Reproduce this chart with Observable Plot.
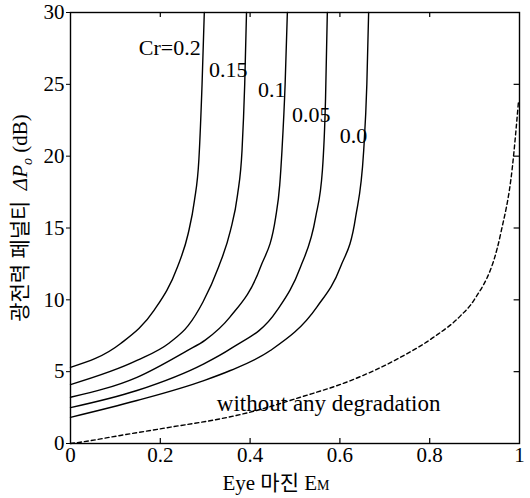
<!DOCTYPE html>
<html>
<head>
<meta charset="utf-8">
<script src="https://cdn.jsdelivr.net/npm/d3@7"></script>
<script src="https://cdn.jsdelivr.net/npm/@observablehq/plot@0.6"></script>
<style>
  html, body { margin: 0; padding: 0; background: #fff; }
</style>
</head>
<body>
<div id="chart"></div>
<script>
// Eye margin E_M (x) vs optical power penalty ΔP_o in dB (y), per crosstalk ratio Cr
const crLabels = ["Cr=0.2", "0.15", "0.1", "0.05", "0.0"];
const em_cr020 = [0, 0.111, 0.186, 0.238, 0.262, 0.276, 0.286, 0.293, 0.298];
const dp_cr020 = [5.3, 6.94, 9.26, 12.27, 14.6, 16.9, 19.8, 25, 30];
const em_cr015 = [0, 0.148, 0.22, 0.262, 0.295, 0.33, 0.356, 0.372, 0.382, 0.388, 0.392];
const dp_cr015 = [4.1, 5.78, 7.0, 8.2, 9.85, 12.3, 14.8, 17.3, 20.4, 25, 30];
const em_cr010 = [0, 0.148, 0.26, 0.30, 0.355, 0.423, 0.457, 0.466, 0.471, 0.478, 0.483];
const dp_cr010 = [3.22, 4.61, 6.47, 7.2, 8.8, 12.27, 15.75, 18.0, 20.4, 25, 30];
const em_cr005 = [0, 0.148, 0.297, 0.356, 0.46, 0.512, 0.546, 0.561, 0.568, 0.572];
const dp_cr005 = [2.5, 3.69, 5.55, 6.59, 9.26, 12.27, 15.75, 19, 24, 30];
const em_cr000 = [0, 0.148, 0.297, 0.356, 0.445, 0.549, 0.601, 0.635, 0.653, 0.66, 0.664];
const dp_cr000 = [1.82, 2.99, 4.38, 5.08, 6.47, 9.51, 12.27, 15.75, 20.4, 25, 30];
// without any degradation (dashed)
const em_ideal = [0, 0.022, 0.111, 0.223, 0.334, 0.40, 0.512, 0.624, 0.735, 0.809, 0.869, 0.898, 0.958, 0.984, 0.998];
const dp_ideal = [0, 0.09, 0.56, 1.14, 1.72, 2.18, 3.22, 4.38, 6.0, 7.4, 8.9, 9.95, 14.6, 19.2, 23.9];
// axis ticks
const xTicks = [0, 0.2, 0.4, 0.6, 0.8, 1];
const yTicks = [0, 5, 10, 15, 20, 25, 30];
// curve label anchors (data coords, text ends at anchor)
const labelEm = [0.29, 0.394, 0.479, 0.579, 0.661];
const labelDp = [27.5, 26.0, 24.6, 22.9, 21.4];
const noteText = "without any degradation";
const noteEm = 0.326, noteDp = 2.8;

const xsets = [em_cr020, em_cr015, em_cr010, em_cr005, em_cr000];
const ysets = [dp_cr020, dp_cr015, dp_cr010, dp_cr005, dp_cr000];
const curves = [];
xsets.forEach((xs, i) => xs.forEach((x, j) => curves.push({cr: crLabels[i], x, y: ysets[i][j]})));
const ideal = em_ideal.map((x, j) => ({x, y: dp_ideal[j]}));
const labels = crLabels.map((t, i) => ({t, x: labelEm[i], y: labelDp[i]}));

const serif = "'Liberation Serif', 'Times New Roman', 'Noto Sans CJK KR', serif";

const chart = Plot.plot({
  width: 530,
  height: 498,
  marginLeft: 70,
  marginRight: 11,
  marginTop: 12,
  marginBottom: 55,
  style: {fontFamily: serif, fontSize: "21px", background: "white", color: "black"},
  x: {domain: [0, 1]},
  y: {domain: [0, 30]},
  marks: [
    Plot.frame({stroke: "black", strokeWidth: 1.4}),
    Plot.axisX(xTicks, {tickSize: 0, tickPadding: 4, label: null, fontSize: 21,
      tickFormat: d => (d === 0 || d === 1) ? String(d) : d.toFixed(1)}),
    Plot.axisY(yTicks, {tickSize: 4, tickPadding: 2, label: null, fontSize: 21}),
    // inward ticks on bottom, top and right
    Plot.ruleX(xTicks.slice(1, -1), {y1: 0, y2: 0.35, stroke: "black", strokeWidth: 1.2}),
    Plot.ruleX(xTicks.slice(1, -1), {y1: 30, y2: 29.65, stroke: "black", strokeWidth: 1.2}),
    Plot.ruleY(yTicks.slice(1, -1), {x1: 1, x2: 0.988, stroke: "black", strokeWidth: 1.2}),
    Plot.line(curves, {x: "x", y: "y", z: "cr", curve: "monotone-x", stroke: "black", strokeWidth: 1.4}),
    Plot.line(ideal, {x: "x", y: "y", curve: "monotone-x", stroke: "black", strokeWidth: 1.4, strokeDasharray: "4,3"}),
    Plot.text(labels, {x: "x", y: "y", text: "t", textAnchor: "end", fontSize: 22, fill: "black"}),
    Plot.text([noteText], {x: noteEm, y: noteDp, text: d => d, textAnchor: "start", fontSize: 23, fill: "black"})
  ]
});

const svg = d3.select(chart);
// x axis label: Eye 마진 E_M
const xl = svg.append("text")
  .attr("x", 276).attr("y", 490)
  .attr("text-anchor", "middle")
  .attr("font-size", 21).attr("fill", "black");
xl.append("tspan").text("Eye 마진 E");
xl.append("tspan").attr("font-size", 14).text("M");
// y axis label: 광전력 페널티  ΔP_o (dB)
const yl = svg.append("text")
  .attr("transform", "translate(27,218) rotate(-90)")
  .attr("text-anchor", "middle")
  .attr("font-size", 21).attr("fill", "black");
yl.append("tspan").text("광전력 페널티  ");
yl.append("tspan").attr("font-style", "italic").text("ΔP");
yl.append("tspan").attr("font-style", "italic").attr("font-size", 14).attr("dy", 5).text("o");
yl.append("tspan").attr("dy", -5).text(" (dB)");

document.getElementById("chart").append(chart);
</script>
</body>
</html>
